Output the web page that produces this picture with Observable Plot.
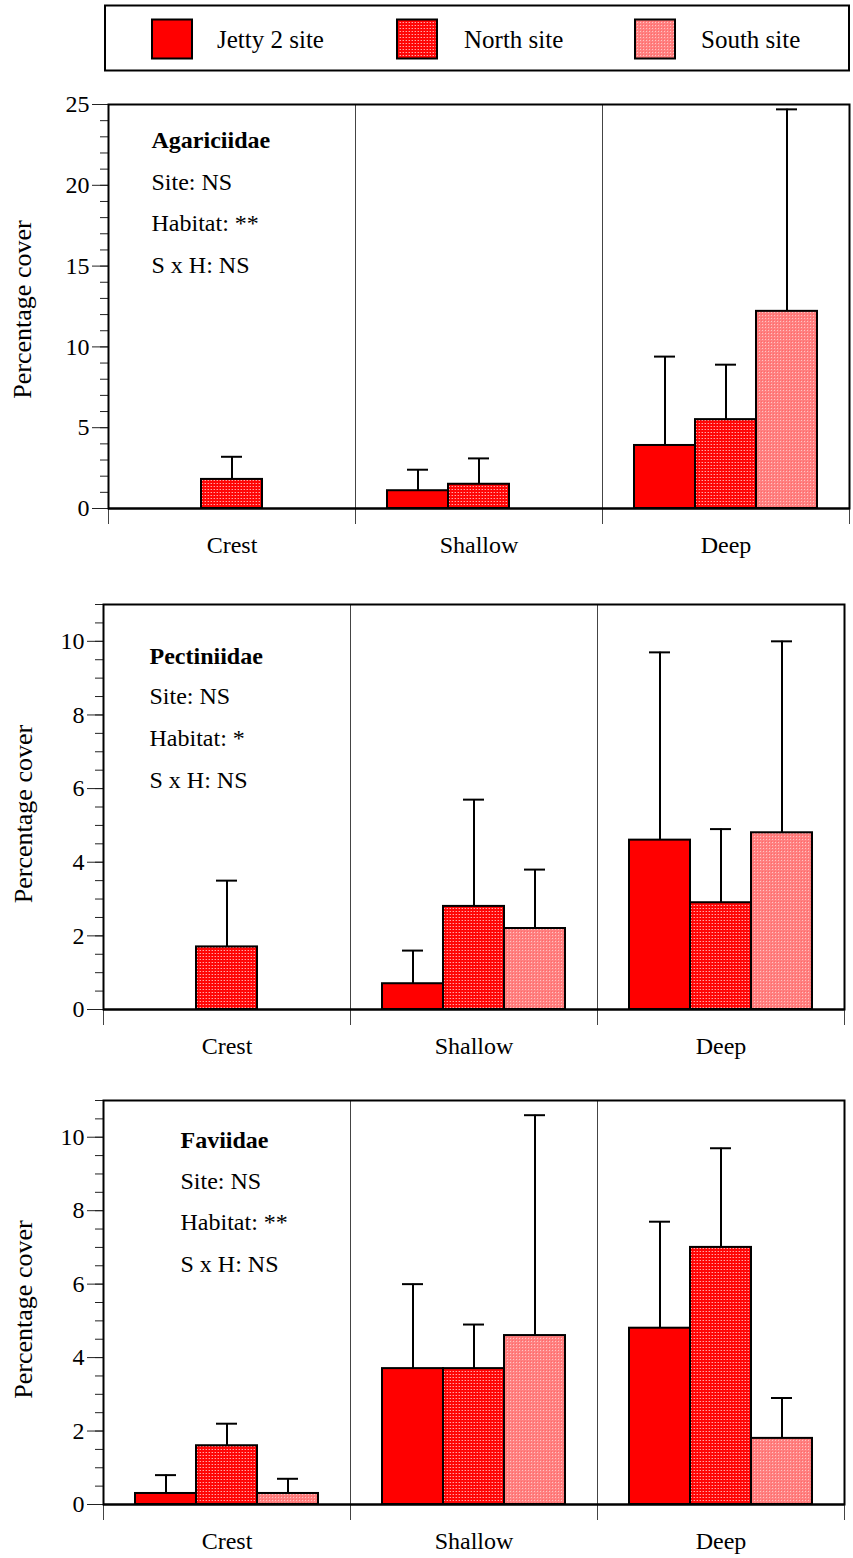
<!DOCTYPE html>
<html><head><meta charset="utf-8">
<script src="https://cdn.jsdelivr.net/npm/d3@7"></script>
<script src="https://cdn.jsdelivr.net/npm/@observablehq/plot@0.6"></script>
<style>
body{margin:0;background:#fff;}
#page{position:relative;width:853px;height:1558px;background:#fff;overflow:hidden;}
#page > svg{position:absolute;left:0;}
#page svg, #page svg text{font-family:"Liberation Serif","Times New Roman",serif !important;}
</style></head><body>
<svg width="0" height="0" style="position:absolute">
  <defs>
    <pattern id="pat-north" patternUnits="userSpaceOnUse" width="3" height="3">
      <rect width="3" height="3" fill="#ff0606"/>
      <rect x="1" y="1" width="1" height="1" fill="#ffa8a8"/>
      <rect x="0" y="1" width="1" height="1" fill="#ff4a4a"/>
    </pattern>
    <pattern id="pat-south" patternUnits="userSpaceOnUse" width="3" height="3">
      <rect width="3" height="3" fill="#ff8080"/>
      <rect x="1" y="1" width="1" height="1" fill="#ffc4c4"/>
      <rect x="0" y="0" width="1" height="1" fill="#ff6a6a"/>
    </pattern>
  </defs>
</svg>
<div id="page"></div>
<script>
// ---- data ----
const habitats = ["Crest", "Shallow", "Deep"];
const sites = ["Jetty 2 site", "North site", "South site"];
const siteFills = ["#ff0000", "url(#pat-north)", "url(#pat-south)"];

// means [habitat][site]
const agariciidaeMean  = [[0, 1.8, 0], [1.1, 1.5, 0], [3.9, 5.5, 12.2]];
const agariciidaeUpper = [[null, 3.2, null], [2.4, 3.1, null], [9.4, 8.9, 24.7]];
const agariciidaeStats = ["Site: NS", "Habitat: **", "S x H: NS"];

const pectiniidaeMean  = [[0, 1.7, 0], [0.7, 2.8, 2.2], [4.6, 2.9, 4.8]];
const pectiniidaeUpper = [[null, 3.5, null], [1.6, 5.7, 3.8], [9.7, 4.9, 10.0]];
const pectiniidaeStats = ["Site: NS", "Habitat: *", "S x H: NS"];

const faviidaeMean  = [[0.3, 1.6, 0.3], [3.7, 3.7, 4.6], [4.8, 7.0, 1.8]];
const faviidaeUpper = [[0.8, 2.2, 0.7], [6.0, 4.9, 10.6], [7.7, 9.7, 2.9]];
const faviidaeStats = ["Site: NS", "Habitat: **", "S x H: NS"];

const yLabel = "Percentage cover";
const FONT = '"Liberation Serif", "Times New Roman", serif';

const page = document.getElementById("page");

// ---- legend ----
const legend = d3.create("svg").attr("width", 853).attr("height", 76).style("top", "0px");
legend.append("rect").attr("x", 105).attr("y", 5.5).attr("width", 744).attr("height", 65)
  .attr("fill", "none").attr("stroke", "black").attr("stroke-width", 2);
const swX = [152, 397, 635], txX = [217, 464, 701];
sites.forEach((s, i) => {
  legend.append("rect").attr("x", swX[i]).attr("y", 19.5).attr("width", 40).attr("height", 39)
    .attr("fill", siteFills[i]).attr("stroke", "black").attr("stroke-width", 2);
  legend.append("text").attr("x", txX[i]).attr("y", 48).text(s)
    .attr("font-family", FONT).attr("font-size", 25).attr("fill", "black");
});
page.appendChild(legend.node());

// ---- panels ----
function panel(o) {
  const rows = [];
  habitats.forEach((h, i) => sites.forEach((s, j) =>
    rows.push({habitat: h, site: s, value: o.mean[i][j], err: o.upper[i][j]})));
  const errRows = rows.filter(d => d.err != null);
  const svg = Plot.plot({
    width: 853, height: o.height,
    marginTop: 24, marginBottom: o.mBottom, marginLeft: o.mLeft, marginRight: o.mRight,
    style: {fontFamily: FONT, fontSize: "24px", color: "black", background: "transparent", overflow: "visible"},
    fx: {domain: habitats, padding: 0, label: null},
    x: {domain: sites, paddingInner: 0, paddingOuter: 0.5, axis: null},
    y: {domain: [0, o.yMax], label: null},
    color: {domain: sites, range: siteFills},
    marks: [
      Plot.frame({anchor: "left", insetBottom: -15, stroke: "#444", strokeWidth: 1}),
      Plot.frame({anchor: "right", insetBottom: -15, stroke: "#444", strokeWidth: 1}),
      Plot.axisY({ticks: o.minor, tickSize: 8, tickFormat: () => "", label: null, stroke: "#222"}),
      Plot.axisY({ticks: o.major, tickSize: 16, tickPadding: 3, fontSize: 24, stroke: "#222", label: null}),
      Plot.axisFx({anchor: "bottom", tickSize: 0, tickPadding: 27, label: null, fontSize: 24}),
      Plot.ruleX(errRows, {fx: "habitat", x: "site", y1: "value", y2: "err", stroke: "black", strokeWidth: 2}),
      Plot.tickY(errRows, {fx: "habitat", x: "site", y: "err", stroke: "black", strokeWidth: 2, insetLeft: 20, insetRight: 20}),
      Plot.barY(rows, {fx: "habitat", x: "site", y: "value", fill: "site", stroke: "black", strokeWidth: 2}),
      Plot.ruleY([0], {stroke: "black", strokeWidth: 2}),
      Plot.frame({facet: "super", stroke: "black", strokeWidth: 2}),
      Plot.text([{habitat: "Crest", t: yLabel}], {fx: "habitat", text: "t", frameAnchor: "left",
        rotate: -90, textAnchor: "middle", lineAnchor: "top", dx: 12 - o.mLeft, dy: o.labelDy, fontSize: 26}),
      Plot.text([{habitat: "Crest", t: o.title}], {fx: "habitat", text: "t", frameAnchor: "top-left",
        textAnchor: "start", lineAnchor: "bottom", dx: o.tx, dy: o.tyTitle, fontWeight: "bold", fontSize: 24}),
      Plot.text([{habitat: "Crest", t: o.stats.join("\n")}], {fx: "habitat", text: "t", frameAnchor: "top-left",
        textAnchor: "start", lineAnchor: "bottom", lineHeight: o.lh, dx: o.tx, dy: o.tyStats, fontSize: 24})
    ]
  });
  svg.style.top = o.top + "px";
  page.appendChild(svg);
}

panel({mean: agariciidaeMean, upper: agariciidaeUpper, title: "Agariciidae", stats: agariciidaeStats,
  yMax: 25, major: d3.range(0, 26, 5), minor: d3.range(0, 26, 1), labelDy: 3,
  top: 80, height: 490, mLeft: 108, mRight: 4, mBottom: 62, tx: 43, tyTitle: 43, tyStats: 168, lh: 1.72});
panel({mean: pectiniidaeMean, upper: pectiniidaeUpper, title: "Pectiniidae", stats: pectiniidaeStats,
  yMax: 11, major: d3.range(0, 11, 2), minor: d3.range(0, 11.01, 0.5), labelDy: 7,
  top: 580, height: 490, mLeft: 102, mRight: 8, mBottom: 61, tx: 46, tyTitle: 59, tyStats: 183, lh: 1.74});
panel({mean: faviidaeMean, upper: faviidaeUpper, title: "Faviidae", stats: faviidaeStats,
  yMax: 11, major: d3.range(0, 11, 2), minor: d3.range(0, 11.01, 0.5), labelDy: 7,
  top: 1076, height: 482, mLeft: 102, mRight: 8, mBottom: 54, tx: 77, tyTitle: 47, tyStats: 171, lh: 1.72});
</script>
</body></html>
